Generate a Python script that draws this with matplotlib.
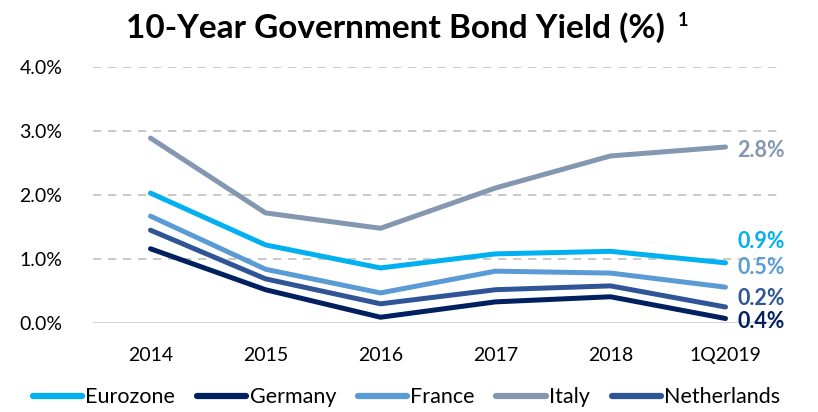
import matplotlib.pyplot as plt

years = ["2014", "2015", "2016", "2017", "2018", "1Q2019"]
eurozone = [2.03, 1.22, 0.86, 1.08, 1.12, 0.94]
germany = [1.16, 0.52, 0.09, 0.33, 0.41, 0.07]
france = [1.67, 0.84, 0.47, 0.81, 0.78, 0.56]
italy = [2.89, 1.72, 1.48, 2.11, 2.61, 2.75]
netherlands = [1.45, 0.69, 0.30, 0.52, 0.58, 0.25]

end_labels = ["0.9%", "0.4%", "0.5%", "2.8%", "0.2%"]
label_y = [1.28, 0.03, 0.86, 2.70, 0.39]

series = {
    "Eurozone": (eurozone, "#00B0F0"),
    "Germany": (germany, "#002060"),
    "France": (france, "#5B9BD5"),
    "Italy": (italy, "#8497B0"),
    "Netherlands": (netherlands, "#2F5597"),
}

plt.rcParams["font.family"] = ["Lato", "DejaVu Sans"]

fig = plt.figure(figsize=(8.18, 4.12), dpi=100)
ax = fig.add_axes([93 / 818, 1 - 323 / 412, 690 / 818, 256 / 412])

x = list(range(len(years)))
for (name, (vals, color)), lab, ly in zip(series.items(), end_labels, label_y):
    ax.plot(x, vals, color=color, linewidth=3.6, solid_capstyle="round", label=name)
    ax.text(5.1, ly, lab, color=color, fontsize=15.5, fontweight="bold", va="center", ha="left")

ax.set_xlim(-0.5, 5.5)
ax.set_ylim(0, 4)
ax.set_yticks([0, 1, 2, 3, 4])
ax.set_yticklabels(["0.0%", "1.0%", "2.0%", "3.0%", "4.0%"])
ax.set_xticks(x)
ax.set_xticklabels(years)
ax.tick_params(length=0, labelsize=14, colors="#000000")
ax.tick_params(axis="y", pad=22)
ax.tick_params(axis="x", pad=17)
for y in [1, 2, 3, 4]:
    ax.axhline(y, color="#C0C0C0", linewidth=1.2, linestyle=(0, (5, 4)), zorder=0)
ax.axhline(0, color="#D0D0D0", linewidth=1.2, zorder=0)
for s in ax.spines.values():
    s.set_visible(False)

fig.text(395 / 818, 1 - 28 / 412, "10-Year Government Bond Yield (%)", ha="center", va="center",
         fontsize=24, fontweight="bold")
fig.text(683 / 818, 1 - 20 / 412, "1", ha="center", va="center", fontsize=13, fontweight="bold")

leg = fig.legend(loc="lower center", bbox_to_anchor=(0.497, -0.035), ncol=5, frameon=False,
                 fontsize=15.5, handlelength=2.3, handletextpad=0.15, columnspacing=1.0)
for line in leg.get_lines():
    line.set_linewidth(4.5)

fig.savefig("out.png", dpi=100)
